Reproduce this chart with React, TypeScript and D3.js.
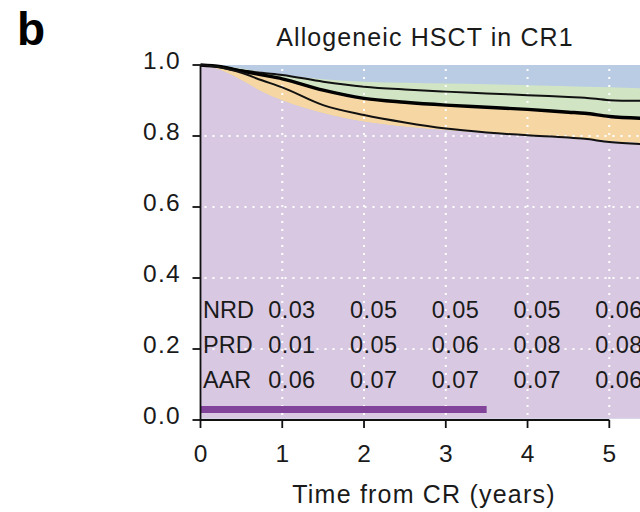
import React from "react";
import * as d3 from "d3";

const times = [0, 0.25, 0.5, 0.75, 1, 1.5, 2, 2.5, 3, 3.5, 4, 4.5, 4.7, 5, 5.4];
const purpleTop = [1.0, 0.985, 0.957, 0.925, 0.9, 0.864, 0.84, 0.826, 0.816, 0.808, 0.801, 0.795, 0.792, 0.785, 0.78];
const orangeTop = [1.0, 0.995, 0.983, 0.972, 0.961, 0.929, 0.906, 0.895, 0.887, 0.881, 0.875, 0.867, 0.864, 0.855, 0.85];
const greenTop = [1.0, 0.998, 0.99, 0.98, 0.972, 0.96, 0.953, 0.95, 0.948, 0.946, 0.943, 0.94, 0.939, 0.937, 0.934];
const line1 = [1.0, 0.995, 0.985, 0.978, 0.972, 0.953, 0.939, 0.931, 0.925, 0.92, 0.915, 0.91, 0.908, 0.901, 0.899];
const line2 = orangeTop;
const line3 = [1.0, 0.993, 0.978, 0.957, 0.937, 0.887, 0.859, 0.838, 0.821, 0.81, 0.802, 0.796, 0.792, 0.783, 0.777];

const xTicks = [0, 1, 2, 3, 4, 5];
const yTicks = [0, 0.2, 0.4, 0.6, 0.8, 1.0];
const tableRows = ["NRD", "PRD", "AAR"];
const tableTimes = [1, 2, 3, 4, 5];
const nrd = ["0.03", "0.05", "0.05", "0.05", "0.06"];
const prd = ["0.01", "0.05", "0.06", "0.08", "0.08"];
const aar = ["0.06", "0.07", "0.07", "0.07", "0.06"];
const tableValues = [nrd, prd, aar];
const barRange = [0, 3.5];

const W = 640, H = 512;
const FONT = "'Liberation Sans', Arial, Helvetica, sans-serif";

export default function App() {
  const x = d3.scaleLinear().domain([0, 5]).range([200.5, 609.3]);
  const y = d3.scaleLinear().domain([0, 1]).range([420, 65]);
  const xEnd = x(5.4);
  const band = (upper: number[], lower: number[] | null) =>
    d3.area<number>()
      .x((_, i) => x(times[i]))
      .y0((_, i) => (lower ? y(lower[i]) : y(0) - 1.5))
      .y1((_, i) => y(upper[i]))
      .curve(d3.curveMonotoneX)(times) as string;
  const line = (vals: number[]) =>
    d3.line<number>().x((_, i) => x(times[i])).y((_, i) => y(vals[i])).curve(d3.curveMonotoneX)(times) as string;
  const rowBase = [318, 353, 388];

  return (
    <svg width={W} height={H} style={{ position: "absolute", left: 0, top: 0, background: "#fff" }} fontFamily={FONT}>
      <text x={17} y={45} fontSize={46} fontWeight="bold">b</text>
      <text x={425} y={46} fontSize={25} textAnchor="middle" letterSpacing={1.1} fill="#1a1a1a">Allogeneic HSCT in CR1</text>

      {/* areas */}
      <rect x={x(0)} y={y(1)} width={xEnd - x(0)} height={y(0) - 1.5 - y(1)} fill="#b9cce4" />
      <path d={band(greenTop, orangeTop)} fill="#d1e5c5" />
      <path d={band(orangeTop, purpleTop)} fill="#f6d6a2" />
      <path d={band(purpleTop, null)} fill="#d8c8e2" />

      {/* grid */}
      {[0.2, 0.4, 0.6, 0.8].map((v) => (
        <line key={"h" + v} x1={x(0) + 4} x2={xEnd} y1={y(v)} y2={y(v)} stroke="#fff" strokeWidth={2} strokeDasharray="2,6" />
      ))}
      {[1, 2, 3, 4, 5].map((t) => (
        <line key={"v" + t} x1={x(t)} x2={x(t)} y1={y(1) + 4} y2={y(0) - 2} stroke="#fff" strokeWidth={2} strokeDasharray="2,6" />
      ))}

      {/* curves */}
      <path d={line(line1)} fill="none" stroke="#111" strokeWidth={2} />
      <path d={line(line2)} fill="none" stroke="#000" strokeWidth={3.4} />
      <path d={line(line3)} fill="none" stroke="#111" strokeWidth={2} />

      {/* bar */}
      <rect x={x(barRange[0])} y={406} width={x(barRange[1]) - x(barRange[0])} height={7} fill="#82449b" />

      {/* table */}
      {tableRows.map((r, ri) => (
        <g key={r}>
          <text x={203} y={rowBase[ri]} fontSize={23.5} fill="#1a1a1a">{r}</text>
          {tableTimes.map((t, ci) => (
            <text key={t} x={x(t) - 14} y={rowBase[ri]} fontSize={23.5} letterSpacing={0.4} fill="#1a1a1a">{tableValues[ri][ci]}</text>
          ))}
        </g>
      ))}

      {/* axes */}
      <line x1={x(0)} x2={x(0)} y1={y(1)} y2={y(0)} stroke="#111" strokeWidth={1.8} />
      <line x1={x(0)} x2={x(5)} y1={y(0)} y2={y(0)} stroke="#111" strokeWidth={1.8} />
      {yTicks.map((v) => (
        <g key={"yt" + v}>
          <line x1={x(0) - 8} x2={x(0)} y1={y(v)} y2={y(v)} stroke="#111" strokeWidth={1.8} />
          <text x={181} y={y(v) + 4} fontSize={24.5} textAnchor="end" letterSpacing={1.3} fill="#1a1a1a">{v.toFixed(1)}</text>
        </g>
      ))}
      {xTicks.map((t) => (
        <g key={"xt" + t}>
          <line x1={x(t)} x2={x(t)} y1={y(0)} y2={y(0) + 8} stroke="#111" strokeWidth={1.8} />
          <text x={x(t)} y={462} fontSize={24.5} textAnchor="middle" fill="#1a1a1a">{t}</text>
        </g>
      ))}
      <text x={424} y={503} fontSize={25} textAnchor="middle" letterSpacing={1.2} fill="#1a1a1a">Time from CR (years)</text>
    </svg>
  );
}
